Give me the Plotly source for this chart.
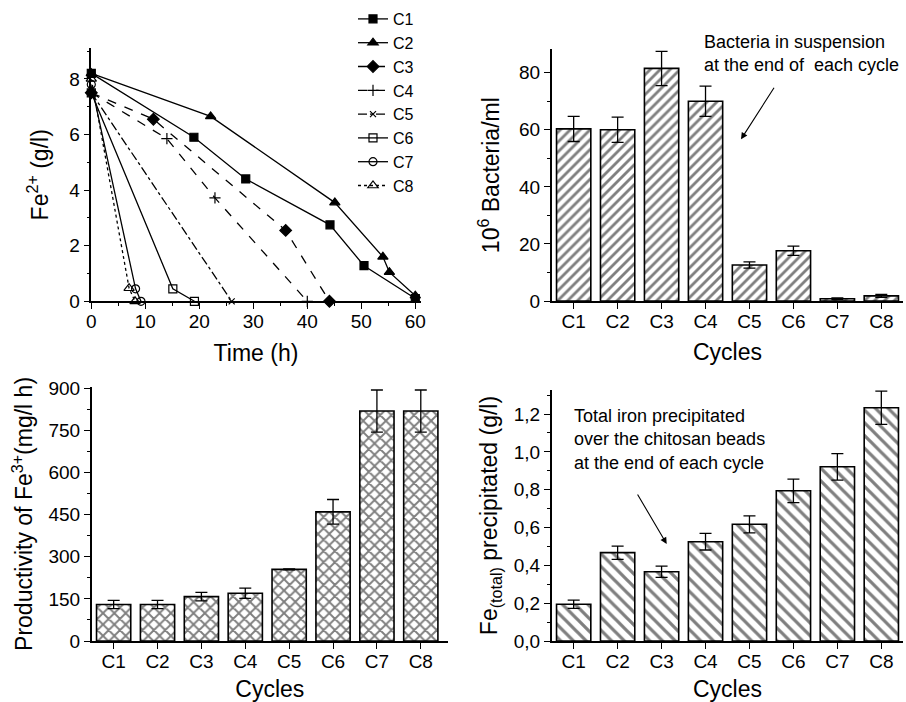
import plotly.graph_objects as go

W, H = 906, 702
FONT = "Liberation Sans, Arial, sans-serif"

# ---------- data ----------
series_names = ["C1", "C2", "C3", "C4", "C5", "C6", "C7", "C8"]
time_c1 = [0, 19, 28.6, 44.2, 50.5, 60]
fe_c1 = [8.2, 5.9, 4.4, 2.75, 1.28, 0.1]
time_c2 = [0, 22.1, 45.1, 54, 55.2, 60]
fe_c2 = [8.2, 6.65, 3.55, 1.6, 1.05, 0.2]
time_c3 = [0, 11.5, 36, 44.1]
fe_c3 = [7.5, 6.55, 2.55, 0]
time_c4 = [0, 14, 22.9, 40]
fe_c4 = [7.5, 5.85, 3.72, 0]
time_c5 = [0, 26]
fe_c5 = [7.5, 0]
time_c6 = [0, 15.1, 19.1]
fe_c6 = [7.5, 0.45, 0]
time_c7 = [0, 8.2, 9.2]
fe_c7 = [7.8, 0.45, 0]
time_c8 = [0, 7, 8.1]
fe_c8 = [8.0, 0.47, 0]

cycles = ["C1", "C2", "C3", "C4", "C5", "C6", "C7", "C8"]
bacteria = [60.3, 60.0, 81.5, 70.0, 12.6, 17.6, 0.8, 1.8]
bacteria_err = [4.4, 4.4, 6.0, 5.3, 1.1, 1.6, 0.3, 0.5]
productivity = [130, 130, 158, 170, 255, 460, 819, 819]
productivity_err = [15, 15, 15, 18, 2, 44, 75, 75]
fe_total = [0.194, 0.467, 0.366, 0.525, 0.617, 0.794, 0.921, 1.233]
fe_total_err = [0.022, 0.035, 0.03, 0.044, 0.045, 0.062, 0.07, 0.088]

# ---------- layout helpers ----------
def px_x(p):
    return p / W

def px_y(p):
    return 1 - p / H

fig = go.Figure()

line_styles = {
    "C1": dict(dash="solid", symbol="square", size=8),
    "C2": dict(dash="solid", symbol="triangle-up", size=9),
    "C3": dict(dash="dash", symbol="diamond", size=9),
    "C4": dict(dash="dash", symbol="cross-thin", size=8),
    "C5": dict(dash="dashdot", symbol="x-thin", size=6),
    "C6": dict(dash="solid", symbol="square-open", size=8),
    "C7": dict(dash="solid", symbol="circle-open", size=8),
    "C8": dict(dash="dot", symbol="triangle-up-open", size=9),
}
series = {
    "C1": (time_c1, fe_c1), "C2": (time_c2, fe_c2), "C3": (time_c3, fe_c3),
    "C4": (time_c4, fe_c4), "C5": (time_c5, fe_c5), "C6": (time_c6, fe_c6),
    "C7": (time_c7, fe_c7), "C8": (time_c8, fe_c8),
}
for name in series_names:
    xs, ys = series[name]
    st = line_styles[name]
    fig.add_trace(go.Scatter(
        x=xs, y=ys, name=name, mode="lines+markers",
        xaxis="x", yaxis="y", cliponaxis=False,
        line=dict(color="black", width=1.3, dash=st["dash"]),
        marker=dict(symbol=st["symbol"], size=st["size"], color="black",
                    line=dict(color="black", width=1.2)),
    ))

def bar_trace(vals, errs, ax, ay, shape, psize, sol):
    return go.Bar(
        x=cycles, y=vals, xaxis=ax, yaxis=ay, width=0.78, showlegend=False,
        marker=dict(color="white", line=dict(color="black", width=1.6),
                    pattern=dict(shape=shape, fgcolor="black", bgcolor="white",
                                 size=psize, solidity=sol)),
        error_y=dict(type="data", array=errs, color="black", thickness=1.3, width=6),
    )

fig.add_trace(bar_trace(bacteria, bacteria_err, "x2", "y2", "/", 7, 0.4))
fig.add_trace(bar_trace(productivity, productivity_err, "x3", "y3", "x", 8, 0.42))
fig.add_trace(bar_trace(fe_total, fe_total_err, "x4", "y4", "\\", 9, 0.36))

axis_common = dict(
    showline=True, linecolor="black", linewidth=1.5, ticks="outside",
    ticklen=6, tickwidth=1.3, tickcolor="black", showgrid=False, zeroline=False,
    automargin=False,
    tickfont=dict(family=FONT, size=19, color="black"),
    title_font=dict(family=FONT, size=23, color="black"),
)
xlab = dict(ticklabelstandoff=-4)

fig.update_layout(
    width=W, height=H, margin=dict(l=0, r=0, t=0, b=0, autoexpand=False),
    paper_bgcolor="white", plot_bgcolor="white",
    separators=",.",
    font=dict(family=FONT, color="black"),
    xaxis=dict(domain=[px_x(91.3), px_x(420.7)], range=[0, 61], anchor="y",
               tickvals=[0, 10, 20, 30, 40, 50, 60],
               minor=dict(ticks="outside", ticklen=3, tickcolor="black", dtick=5, tick0=0),
               title=dict(text="Time (h)", standoff=14), **xlab, **axis_common),
    yaxis=dict(domain=[px_y(301.3), px_y(48.3)], range=[0, 9.1], anchor="x",
               tickvals=[0, 2, 4, 6, 8],
               minor=dict(ticks="outside", ticklen=3, tickcolor="black", dtick=1, tick0=0),
               title=dict(text="Fe<sup>2+</sup> (g/l)", standoff=14), **axis_common),
    xaxis2=dict(domain=[px_x(551.7), px_x(903.3)], range=[-0.5, 7.5], anchor="y2",
                title=dict(text="Cycles", standoff=13), **xlab, **axis_common),
    yaxis2=dict(domain=[px_y(301), px_y(49.3)], range=[0, 88.2], anchor="x2",
                tickvals=[0, 20, 40, 60, 80],
                minor=dict(ticks="outside", ticklen=3, tickcolor="black", dtick=10, tick0=0),
                title=dict(text="10<sup>6</sup> Bacteria/ml", standoff=13), **axis_common),
    xaxis3=dict(domain=[px_x(91.7), px_x(448)], range=[-0.5, 7.62], anchor="y3",
                title=dict(text="Cycles", standoff=10), **xlab, **axis_common),
    yaxis3=dict(domain=[px_y(641), px_y(386.9)], range=[0, 905], anchor="x3",
                tickvals=[0, 150, 300, 450, 600, 750, 900],
                minor=dict(ticks="outside", ticklen=3, tickcolor="black", dtick=75, tick0=0),
                title=dict(text="Productivity of Fe<sup>3+</sup>(mg/l h)", standoff=9), **axis_common),
    xaxis4=dict(domain=[px_x(551.7), px_x(903.3)], range=[-0.5, 7.5], anchor="y4",
                title=dict(text="Cycles", standoff=10), **xlab, **axis_common),
    yaxis4=dict(domain=[px_y(641), px_y(390)], range=[0, 1.327], anchor="x4",
                tickvals=[0, 0.2, 0.4, 0.6, 0.8, 1.0, 1.2], tickformat=".1f",
                minor=dict(ticks="outside", ticklen=3, tickcolor="black", dtick=0.1, tick0=0),
                title=dict(text="Fe<sub>(total)</sub> precipitated (g/l)", standoff=10), **axis_common),
    legend=dict(x=px_x(353), y=px_y(2), xanchor="left", yanchor="top",
                bgcolor="rgba(0,0,0,0)", font=dict(family=FONT, size=16, color="black"),
                tracegroupgap=0, itemwidth=30),
    annotations=[
        dict(xref="paper", yref="paper", x=px_x(702), y=px_y(54), xanchor="left", yanchor="middle",
             align="left", showarrow=False,
             text="Bacteria in suspension<br>at the end of  each cycle",
             font=dict(family=FONT, size=18, color="black")),
        dict(xref="paper", yref="paper", x=px_x(741), y=px_y(139.3), ax=34, ay=-53,
             text="", showarrow=True, arrowhead=2, arrowsize=1.2, arrowwidth=1.1, arrowcolor="black"),
        dict(xref="paper", yref="paper", x=px_x(572), y=px_y(439), xanchor="left", yanchor="middle",
             align="left", showarrow=False,
             text="Total iron precipitated<br>over the chitosan beads<br>at the end of each cycle",
             font=dict(family=FONT, size=18, color="black")),
        dict(xref="paper", yref="paper", x=px_x(666.7), y=px_y(544), ax=-30, ay=-51,
             text="", showarrow=True, arrowhead=2, arrowsize=1.2, arrowwidth=1.1, arrowcolor="black"),
    ],
)

fig.write_html("out.html", config={"displayModeBar": False},
               post_script="document.body.style.margin='0';")
